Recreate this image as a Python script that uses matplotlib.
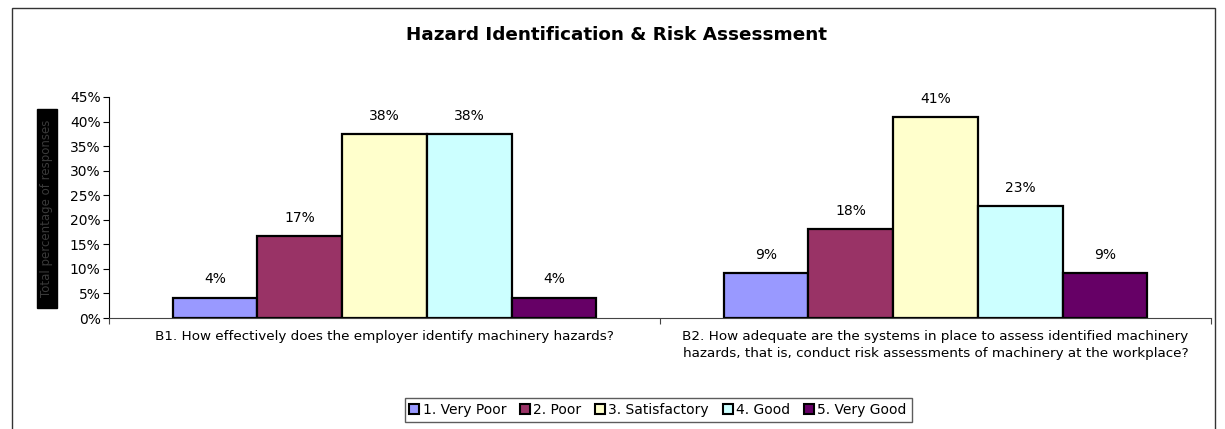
import matplotlib
matplotlib.use("Agg")
import matplotlib.pyplot as plt
from matplotlib.patches import Rectangle
from matplotlib.ticker import FixedLocator, NullFormatter
import numpy as np

plt.rcParams['font.family'] = ['DejaVu Sans']

title = "Hazard Identification & Risk Assessment"
categories = [
    "B1. How effectively does the employer identify machinery hazards?",
    "B2. How adequate are the systems in place to assess identified machinery\nhazards, that is, conduct risk assessments of machinery at the workplace?",
]
series_names = ["1. Very Poor", "2. Poor", "3. Satisfactory", "4. Good", "5. Very Good"]
series_values = [
    [4.17, 9.09],
    [16.67, 18.18],
    [37.5, 40.91],
    [37.5, 22.73],
    [4.17, 9.09],
]
series_colors = ["#9999FF", "#993366", "#FFFFCC", "#CCFFFF", "#660066"]
y_ticks = [0, 5, 10, 15, 20, 25, 30, 35, 40, 45]
y_label = "Total percentage of responses"

W, H = 1225, 429
fig = plt.figure(figsize=(W / 100, H / 100), dpi=100)

# outer chart border
fig.patches.append(Rectangle((12 / W, -0.05), (1215 - 12) / W, 1.05 - 8 / H,
                             transform=fig.transFigure, fill=False,
                             edgecolor="#333333", linewidth=1.0))

ax = fig.add_axes([109 / W, 1 - 318 / H, (1211 - 109) / W, (318 - 97) / H])

n = len(series_names)
gap = 1.5
w = 1.0 / (n + gap)
x = np.arange(len(categories))
for i, (name, vals, col) in enumerate(zip(series_names, series_values, series_colors)):
    pos = x - 0.5 + (gap / 2) * w + (i + 0.5) * w
    ax.bar(pos, vals, width=w, color=col, edgecolor="black", linewidth=1.6, label=name)
    for xp, v in zip(pos, vals):
        ax.annotate(f"{v:.0f}%", (xp, v), xytext=(0, 8), textcoords="offset points",
                    ha="center", va="bottom", fontsize=10)

ax.set_xlim(-0.5, len(categories) - 0.5)
ax.set_ylim(0, 45)
ax.set_yticks(y_ticks)
ax.set_yticklabels([f"{t}%" for t in y_ticks], fontsize=10)
ax.xaxis.set_major_locator(FixedLocator([-0.5, 0.5, 1.5]))
ax.xaxis.set_major_formatter(NullFormatter())
ax.tick_params(axis="x", length=4, width=0.8, colors="#444444")
ax.tick_params(axis="y", length=4, width=0.8, pad=2)
for s in ["top", "right"]:
    ax.spines[s].set_visible(False)
ax.spines["bottom"].set_color("#444444")

for xi, lab in zip(x, categories):
    ax.text(xi, -0.055, lab, transform=ax.get_xaxis_transform(), ha="center", va="top",
            fontsize=9.7, linespacing=1.4, multialignment="center")

fig.text(616 / W, 1 - 35 / H, title, ha="center", va="center", fontsize=13.2, fontweight="bold")

# y-axis title (rendered as a dark box in the reference)
fig.patches.append(Rectangle((37 / W, 1 - 308 / H), 20 / W, 199 / H,
                             transform=fig.transFigure, facecolor="black", edgecolor="black"))
fig.text(47 / W, 1 - 208 / H, y_label, rotation=90, ha="center", va="center",
         fontsize=8.5, color="#3a3a3a")

handles = [Rectangle((0, 0), 1, 1, facecolor=c, edgecolor="black", linewidth=1.5) for c in series_colors]
leg = fig.legend(handles, series_names, loc="center", bbox_to_anchor=(658 / W, 1 - 410 / H),
                 ncol=5, fontsize=10, frameon=True, fancybox=False, handlelength=0.7,
                 handleheight=0.7, handletextpad=0.25, columnspacing=1.0, borderpad=0.35)
leg.get_frame().set_edgecolor("#333333")
leg.get_frame().set_linewidth(1.0)

fig.savefig("out.png", dpi=100)
